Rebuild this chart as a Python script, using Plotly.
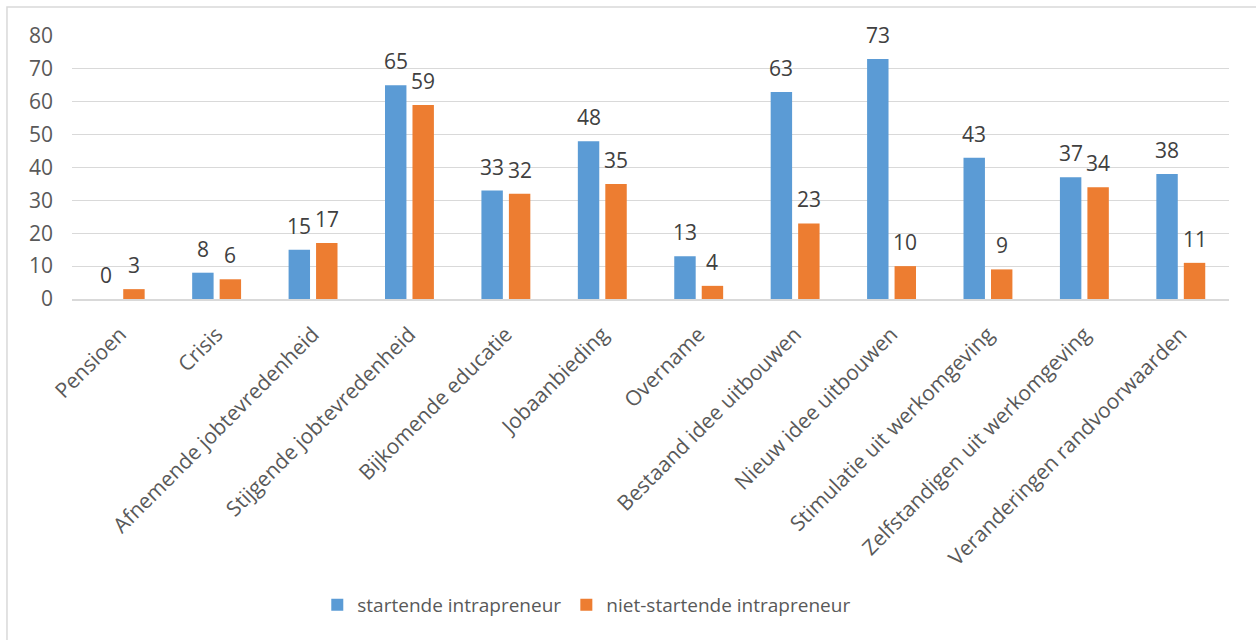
import plotly.graph_objects as go

categories = [
    "Pensioen", "Crisis", "Afnemende jobtevredenheid", "Stijgende jobtevredenheid",
    "Bijkomende educatie", "Jobaanbieding", "Overname", "Bestaand idee uitbouwen",
    "Nieuw idee uitbouwen", "Stimulatie uit werkomgeving", "Zelfstandigen uit werkomgeving",
    "Veranderingen randvoorwaarden",
]
startende = [0, 8, 15, 65, 33, 48, 13, 63, 73, 43, 37, 38]
niet_startende = [3, 6, 17, 59, 32, 35, 4, 23, 10, 9, 34, 11]
y_ticks = [0, 10, 20, 30, 40, 50, 60, 70, 80]

BLUE = "#5B9BD5"
ORANGE = "#ED7D31"
GRID = "#D9D9D9"
FONT = "Open Sans"
SIZE = 21

fig = go.Figure()
fig.add_trace(go.Bar(name="startende intrapreneur", x=categories, y=startende,
                     marker=dict(color=BLUE, line=dict(width=0))))
fig.add_trace(go.Bar(name="niet-startende intrapreneur", x=categories, y=niet_startende,
                     marker=dict(color=ORANGE, line=dict(width=0))))

# value labels floating above each bar
annotations = []
for series, shift in ((startende, -13.75), (niet_startende, 13.75)):
    for cat, val in zip(categories, series):
        annotations.append(dict(
            x=cat, y=val, xref="x", yref="y", text=str(val), showarrow=False,
            xshift=shift, yshift=24, yanchor="middle",
            font=dict(family=FONT, size=SIZE, color="#404040"),
        ))

# light frame around the chart area
fig.add_shape(type="rect", xref="paper", yref="paper",
              x0=-0.0562, x1=1.2, y0=-1.6, y1=1.1103,
              line=dict(color=GRID, width=1.5), fillcolor="rgba(0,0,0,0)", layer="below")

fig.update_layout(
    width=1256, height=640,
    margin=dict(l=72, r=27, t=36, b=341),
    paper_bgcolor="white", plot_bgcolor="white",
    barmode="group", bargap=0.43, bargroupgap=0.22,
    font=dict(family=FONT, size=SIZE, color="#595959"),
    annotations=annotations,
    showlegend=True,
    legend=dict(orientation="h", x=0.212, y=-1.163, xanchor="left", yanchor="middle",
                font=dict(family=FONT, size=19, color="#595959"),
                itemwidth=30, traceorder="normal"),
)
fig.update_xaxes(showgrid=False, showline=True, linecolor=GRID, linewidth=1.5,
                 tickangle=-45, ticks="", ticklabelstandoff=13,
                 tickfont=dict(family=FONT, size=SIZE, color="#595959"))
fig.update_yaxes(range=[0, 80], tickvals=y_ticks, showgrid=True, gridcolor=GRID, gridwidth=1.2,
                 zeroline=False, showline=False, ticks="", ticklabelstandoff=18,
                 tickfont=dict(family=FONT, size=SIZE, color="#595959"))

fig.write_html("out.html")
